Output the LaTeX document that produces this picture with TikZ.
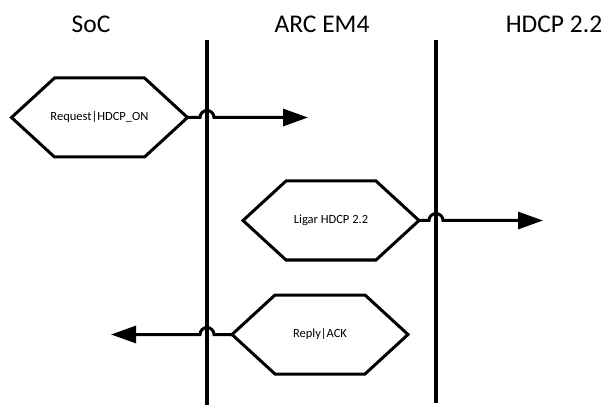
\documentclass[tikz,border=0pt]{standalone}
\usepackage{fontspec}
\setmainfont{Carlito}
\usetikzlibrary{arrows.meta}

\tikzset{
  lifeline/.style={line width=4pt},
  title/.style={font=\fontsize{25.5}{28}\selectfont},
  hexnode/.style={minimum width=176pt, minimum height=79pt, inner sep=0pt, outer sep=0pt,
    font=\fontsize{12.5}{14}\selectfont},
  hexline/.style={line width=3pt, line join=miter},
  msg/.style={line width=3pt, -{Triangle[length=25pt,width=17pt]}}
}

\begin{document}
\begin{tikzpicture}[x=1pt, y=1pt]
    \useasboundingbox (0,0) rectangle (603,405);

    % Titles
    \node[title] (soc) at (91,381) {SoC};
    \node[title] (arc) at (322,381) {ARC EM4};
    \node[title] (hdcp) at (554,381) {HDCP 2.2};

    % Lifelines
    \coordinate (soctop) at (207,365);
    \coordinate (socbot) at (207,0);
    \coordinate (arctop) at (436,365);
    \coordinate (arcbot) at (436,2);
    \draw[lifeline] (soctop) -- (socbot);
    \draw[lifeline] (arctop) -- (arcbot);

    % Messages
    \node[hexnode] (req) at (99.5,287.5) {Request|HDCP\_ON};
    \node[hexnode] (lig) at (331,184.5) {Ligar HDCP 2.2};
    \node[hexnode] (rep) at (320,70.5) {Reply|ACK};

    \foreach \n in {req,lig,rep}
      \draw[hexline] (\n.west) -- ([xshift=43pt]\n.north west) -- ([xshift=-43pt]\n.north east)
        -- (\n.east) -- ([xshift=-43pt]\n.south east) -- ([xshift=43pt]\n.south west) -- cycle;

    % Arrow ends
    \coordinate (reqtip) at (308,287.5);
    \coordinate (ligtip) at (543,184.5);
    \coordinate (reptip) at (111,70.5);

    % Arrows with jumps over the lifelines
    \draw[msg] (req.east) -- ([xshift=-7pt]req.east -| soctop) arc[start angle=180, end angle=0, radius=7] -- (reqtip);
    \draw[msg] (lig.east) -- ([xshift=-7pt]lig.east -| arctop) arc[start angle=180, end angle=0, radius=7] -- (ligtip);
    \draw[msg] (rep.west) -- ([xshift=7pt]rep.west -| soctop) arc[start angle=0, end angle=180, radius=7] -- (reptip);
\end{tikzpicture}
\end{document}
